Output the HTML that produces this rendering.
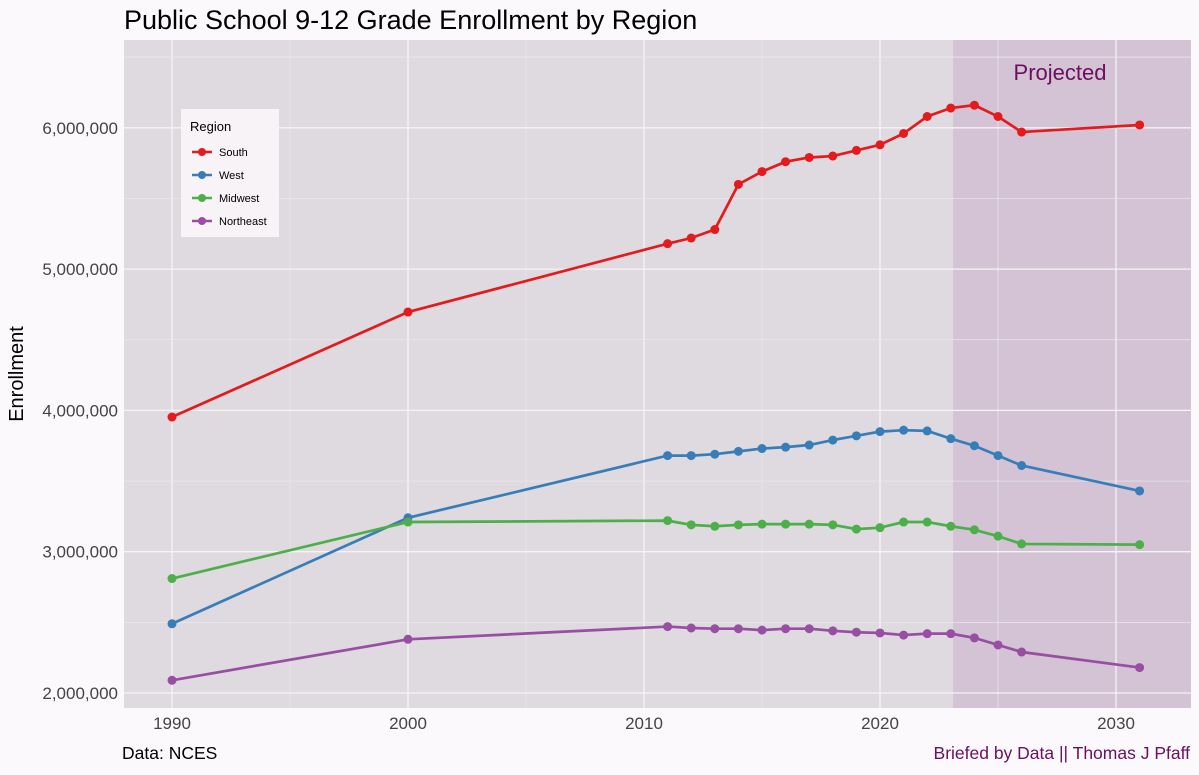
<!DOCTYPE html>
<html><head><meta charset="utf-8"><style>
body{margin:0;background:#fcf9fc;font-family:"Liberation Sans",sans-serif}
svg text{font-family:"Liberation Sans",sans-serif}
</style></head><body>
<svg id="c" width="1199" height="770" xmlns="http://www.w3.org/2000/svg">
<rect width="1199" height="770" fill="#fcf9fc"/>
<text x="124" y="29" font-size="27" fill="#000">Public School 9-12 Grade Enrollment by Region</text>
<g id="plot"></g>
<text x="23" y="374" font-size="20" transform="rotate(-90 23 374)" text-anchor="middle">Enrollment</text>
<text x="122" y="759" font-size="17.5">Data: NCES</text>
<text x="1190" y="759" font-size="17.5" fill="#6b0f5e" text-anchor="end">Briefed by Data || Thomas J Pfaff</text>
</svg>
<script>
const years=[1990,2000,2011,2012,2013,2014,2015,2016,2017,2018,2019,2020,2021,2022,2023,2024,2025,2026,2031];
const south=[3.953,4.696,5.18,5.22,5.28,5.60,5.69,5.76,5.79,5.80,5.84,5.88,5.96,6.08,6.14,6.16,6.08,5.97,6.02];
const west=[2.49,3.24,3.68,3.68,3.69,3.71,3.73,3.74,3.755,3.79,3.82,3.85,3.86,3.855,3.80,3.75,3.68,3.61,3.43];
const midwest=[2.81,3.21,3.22,3.19,3.18,3.19,3.195,3.195,3.195,3.19,3.16,3.17,3.21,3.21,3.18,3.155,3.11,3.055,3.05];
const northeast=[2.09,2.38,2.47,2.46,2.455,2.455,2.445,2.455,2.455,2.44,2.43,2.425,2.41,2.42,2.42,2.39,2.34,2.29,2.18];
const xTicks=[1990,2000,2010,2020,2030];
const yTicks=[2,3,4,5,6];
const yLabels=["2,000,000","3,000,000","4,000,000","5,000,000","6,000,000"];
const projStart=2023.1;
const NS="http://www.w3.org/2000/svg";
const L=124,R=1191,T=40,B=708;
const x=v=>172+(v-1990)*23.6;
const y=v=>693-(v-2)*141.3;
const g=document.getElementById('plot');
function mk(t,a,p){const e=document.createElementNS(NS,t);for(const k in a)e.setAttribute(k,a[k]);(p||g).appendChild(e);return e;}
let e=mk('rect',{x:L,y:T,width:R-L,height:B-T,fill:'#dedadf'});


e=mk('rect',{x:x(projStart),y:T,width:R-x(projStart),height:B-T,fill:'#d3c3d5'});


for(let i=0;i<xTicks.length;i++){const v=xTicks[i];
 mk('line',{x1:x(v+5),x2:x(v+5),y1:T,y2:B,stroke:'#ece8ee','stroke-width':0.7});
 mk('line',{x1:x(v),x2:x(v),y1:T,y2:B,stroke:'#f6f3f7','stroke-width':1.3});
 e=mk('text',{x:x(v),y:B+21,'font-size':17,'text-anchor':'middle',fill:'#444'});e.textContent=v;
 
 }
mk('line',{x1:L,x2:R,y1:y(6.5),y2:y(6.5),stroke:'#ece8ee','stroke-width':0.7});
for(let i=0;i<yTicks.length;i++){const v=yTicks[i];
 mk('line',{x1:L,x2:R,y1:y(v+0.5),y2:y(v+0.5),stroke:'#ece8ee','stroke-width':0.7});
 mk('line',{x1:L,x2:R,y1:y(v),y2:y(v),stroke:'#f6f3f7','stroke-width':1.3});
 e=mk('text',{x:L-6,y:y(v)+6,'font-size':17,'text-anchor':'end',fill:'#444'});e.textContent=yLabels[i];
 
 }
e=mk('text',{x:1060,y:80,'font-size':22,'text-anchor':'middle',fill:'#6b0f5e'});e.textContent='Projected';


const series=[["South",south,"#e41a1c"],["West",west,"#377eb8"],["Midwest",midwest,"#4daf4a"],["Northeast",northeast,"#984ea3"]];
series.forEach(([n,d,c])=>{
 const pl=mk('polyline',{points:years.map((yr,i)=>x(yr)+','+y(d[i])).join(' '),fill:'none',stroke:c,'stroke-width':2.7});
 
 
 years.forEach((yr,i)=>{const p=mk('circle',{cx:x(yr),cy:y(d[i]),r:4.5,fill:c});
  
  });
});
const lg=mk('g',{});


mk('rect',{x:181,y:109,width:98,height:128,fill:'#f7f3f7'},lg);
e=mk('text',{x:190,y:131,'font-size':13},lg);e.textContent='Region';
series.forEach(([n,d,c],i)=>{const yy=152+i*23;
 mk('line',{x1:192,x2:212,y1:yy,y2:yy,stroke:c,'stroke-width':2.5},lg);
 mk('circle',{cx:202,cy:yy,r:4,fill:c},lg);
 const t=mk('text',{x:219,y:yy+4,'font-size':11},lg);t.textContent=n;
 
 });
</script>
</body></html>
